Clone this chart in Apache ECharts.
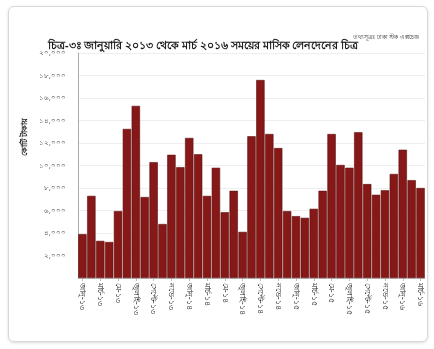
<!DOCTYPE html>
<html><head><meta charset="utf-8">
<script src="https://cdn.jsdelivr.net/npm/echarts@6/dist/echarts.min.js"></script>
<style>
html,body{margin:0;padding:0;background:#fff;}
#frame{position:absolute;left:8px;top:6px;width:418px;height:334px;border:1px solid #d8d8d8;border-radius:6px;box-shadow:0 1px 3px rgba(0,0,0,0.15);}
#c{position:absolute;left:0;top:0;width:434px;height:349px;}
</style></head>
<body><div id="frame"></div><div id="c"></div>
<script>
const titleText = 'চিত্র-৩ঃ জানুয়ারি ২০১৩ থেকে মার্চ ২০১৬ সময়ের মাসিক লেনদেনের চিত্র';
const sourceText = 'তথ্যসূত্রঃ ঢাকা স্টক এক্সচেঞ্জ';
const yAxisName = 'কোটি টাকায়';
const months = ['জানু','ফেব্রু','মার্চ','এপ্রিল','মে','জুন','জুলাই','আগস্ট','সেপ্টে','অক্টো','নভে','ডিসে'];
const years = ['১৩','১৪','১৫','১৬'];
const categories = [];
for (let i = 0; i < 39; i++) categories.push(months[i % 12] + '-' + years[Math.floor(i / 12)]);
const turnover = [3900, 7300, 3300, 3200, 5950, 13250, 15300, 7200, 10300, 4800,
  10950, 9850, 12450, 11000, 7300, 9800, 5850, 7750, 4100, 12600,
  17600, 12800, 11550, 5950, 5500, 5350, 6150, 7750, 12800, 10050,
  9800, 12950, 8350, 7400, 7800, 9250, 11400, 8700, 8000];
const yTickLabels = ['০','২,০০০','৪,০০০','৬,০০০','৮,০০০','১০,০০০','১২,০০০','১৪,০০০','১৬,০০০','১৮,০০০','২০,০০০'];
const FF = '"Noto Sans", "DejaVu Sans", sans-serif';
const chart = echarts.init(document.getElementById('c'));
chart.setOption({
  animation: false,
  textStyle: {fontFamily: FF},
  title: [
    {text: titleText, left: 43, top: 35, textStyle: {fontSize: 11, fontWeight: 'bold', color: '#1a1a1a', fontFamily: FF}},
    {text: sourceText, right: 10, top: 29, textStyle: {fontSize: 6, fontWeight: 'normal', color: '#333', fontFamily: FF}}
  ],
  graphic: [{
    type: 'text', x: 25, y: 137, rotation: Math.PI / 2,
    style: {text: yAxisName, fill: '#222', font: 'bold 8px ' + FF, align: 'center', verticalAlign: 'middle'}
  }],
  grid: {left: 78, right: 9, top: 53, bottom: 71, outerBoundsMode: 'none', containLabel: false},
  xAxis: {
    type: 'category', data: categories,
    axisLine: {lineStyle: {color: '#bbb'}},
    axisTick: {show: true, alignWithLabel: true, interval: 1, lineStyle: {color: '#bbb'}, length: 3},
    axisLabel: {interval: 1, rotate: -90, fontSize: 8, color: '#222', margin: 5}
  },
  yAxis: {
    type: 'value', min: 0, max: 20000, interval: 2000,
    axisLine: {show: true, lineStyle: {color: '#aaa'}},
    axisTick: {show: false},
    splitLine: {lineStyle: {color: '#eee'}},
    axisLabel: {fontSize: 7, color: '#444', margin: 12, showMinLabel: false,
      formatter: function (v) { return yTickLabels[Math.round(v / 2000)]; }}
  },
  series: [{
    type: 'bar', data: turnover, barCategoryGap: '6%',
    itemStyle: {color: '#861818', borderColor: '#5e1010', borderWidth: 0.6}
  }]
});
</script></body></html>
